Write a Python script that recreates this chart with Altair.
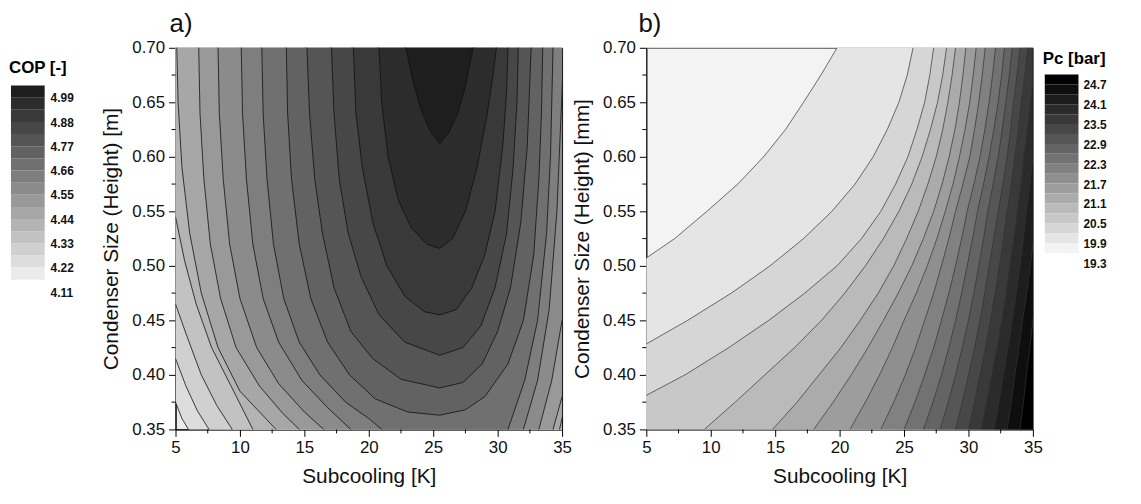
import altair as alt
import pandas as pd

FONT = "Liberation Sans"

# ---------------- panel a) COP [-] ----------------
COP_BOUNDS = [4.11, 4.165, 4.22, 4.275, 4.33, 4.385, 4.44, 4.495, 4.55,
              4.605, 4.66, 4.715, 4.77, 4.825, 4.88, 4.935, 4.99]
COP_GRAYS = [235, 221, 208, 194, 180, 167, 153, 139, 126, 112, 98, 85, 71, 57, 44, 30]
COP_LABELS = [4.11, 4.22, 4.33, 4.44, 4.55, 4.66, 4.77, 4.88, 4.99]
COP_LEVELS = [4.165, 4.22, 4.275, 4.33, 4.385, 4.44, 4.495, 4.55, 4.605,
              4.66, 4.715, 4.77, 4.825, 4.88, 4.935]

# contour lines (Subcooling K, Height m)
COP_LINE_X = [
    [5.0, 5.5, 6.0, 6.5, 35.0],
    [5.0, 5.8, 6.7, 7.6, 8.2, 35.0],
    [5.0, 5.9, 7.0, 8.2, 9.4, 10.0, 35.0],
    [5.0, 5.7, 6.6, 7.8, 9.3, 11.0, 11.6, 35.0],
    [5.0, 5.1, 5.2, 5.5, 6.1, 7.0, 8.3, 10.0, 12.8, 13.5, 34.0, 34.8, 35.2],
    [6.6, 6.8, 6.9, 7.2, 7.7, 8.5, 9.7, 11.5, 13.3, 14.6, 15.5, 33.4, 34.3, 35.0],
    [8.1, 8.3, 8.4, 8.7, 9.2, 10.0, 11.3, 13.0, 15.0, 16.5, 17.5, 32.2, 33.2, 34.2, 35.0],
    [9.9, 10.1, 10.2, 10.5, 11.0, 11.8, 13.0, 14.8, 16.8, 18.6, 19.5, 31.0, 32.0, 33.1, 34.0, 34.6, 35.0, 35.1],
    [11.5, 11.7, 11.8, 12.1, 12.6, 13.4, 14.6, 16.2, 18.2, 20.0, 21.0, 22.0, 29.5, 30.8, 32.1, 33.1, 33.8, 34.1, 34.3, 34.4],
    [13.4, 13.6, 13.7, 14.0, 14.6, 15.5, 16.8, 18.5, 20.5, 23.0, 25.5, 27.5, 29.0, 30.8, 32.0, 32.8, 33.2, 33.4, 33.5, 33.6],
    [15.0, 15.2, 15.4, 15.8, 16.4, 17.3, 18.6, 20.3, 22.5, 25.5, 27.3, 28.8, 30.0, 31.0, 31.8, 32.3, 32.6, 32.7],
    [16.9, 17.1, 17.3, 17.7, 18.4, 19.4, 20.8, 22.8, 25.5, 27.3, 28.7, 29.8, 30.7, 31.2, 31.5, 31.6, 31.7],
    [18.6, 18.8, 19.0, 19.5, 20.3, 21.4, 22.8, 24.3, 25.5, 26.8, 28.0, 29.0, 29.8, 30.4, 30.7, 30.8, 30.9],
    [20.6, 20.8, 21.0, 21.5, 22.3, 23.3, 24.5, 25.5, 26.5, 27.5, 28.4, 29.2, 29.7, 29.9, 30.0],
    [22.7, 22.9, 23.4, 24.0, 24.7, 25.5, 26.2, 26.9, 27.5, 28.1, 28.3],
]
COP_LINE_Y = [
    [0.375, 0.36, 0.35, 0.33, 0.33],
    [0.415, 0.39, 0.367, 0.35, 0.33, 0.33],
    [0.465, 0.435, 0.40, 0.372, 0.35, 0.33, 0.33],
    [0.545, 0.505, 0.465, 0.425, 0.39, 0.35, 0.33, 0.33],
    [0.72, 0.70, 0.65, 0.59, 0.53, 0.475, 0.425, 0.385, 0.35, 0.33, 0.33, 0.35, 0.37],
    [0.72, 0.70, 0.64, 0.58, 0.52, 0.47, 0.425, 0.39, 0.365, 0.35, 0.33, 0.33, 0.35, 0.38],
    [0.72, 0.70, 0.64, 0.58, 0.52, 0.47, 0.425, 0.392, 0.366, 0.35, 0.33, 0.33, 0.35, 0.395, 0.45],
    [0.72, 0.70, 0.64, 0.58, 0.52, 0.47, 0.43, 0.395, 0.37, 0.35, 0.33, 0.33, 0.35, 0.395, 0.46, 0.55, 0.66, 0.70],
    [0.72, 0.70, 0.64, 0.58, 0.52, 0.47, 0.43, 0.40, 0.375, 0.36, 0.35, 0.33, 0.33, 0.35, 0.395, 0.45, 0.53, 0.60, 0.70, 0.72],
    [0.72, 0.70, 0.64, 0.58, 0.52, 0.47, 0.43, 0.40, 0.378, 0.366, 0.363, 0.368, 0.38, 0.41, 0.45, 0.51, 0.58, 0.64, 0.70, 0.72],
    [0.72, 0.70, 0.64, 0.58, 0.53, 0.48, 0.44, 0.415, 0.396, 0.388, 0.393, 0.41, 0.44, 0.48, 0.54, 0.61, 0.70, 0.72],
    [0.72, 0.70, 0.64, 0.58, 0.53, 0.49, 0.455, 0.43, 0.418, 0.425, 0.445, 0.48, 0.53, 0.59, 0.65, 0.70, 0.72],
    [0.72, 0.70, 0.64, 0.59, 0.54, 0.50, 0.472, 0.458, 0.455, 0.46, 0.48, 0.51, 0.55, 0.61, 0.66, 0.70, 0.72],
    [0.72, 0.70, 0.65, 0.60, 0.56, 0.535, 0.52, 0.516, 0.525, 0.55, 0.59, 0.64, 0.68, 0.70, 0.72],
    [0.72, 0.70, 0.67, 0.645, 0.625, 0.612, 0.622, 0.64, 0.665, 0.70, 0.72],
]

# ---------------- panel b) Pc [bar] ----------------
PC_BOUNDS = [19.3, 19.6, 19.9, 20.2, 20.5, 20.8, 21.1, 21.4, 21.7, 22.0,
             22.3, 22.6, 22.9, 23.2, 23.5, 23.8, 24.1, 24.4, 24.7]
PC_GRAYS = [243, 229, 214, 200, 186, 171, 157, 143, 129, 114, 100, 86, 71, 57, 43, 29, 14, 0]
PC_LABELS = [19.3, 19.9, 20.5, 21.1, 21.7, 22.3, 22.9, 23.5, 24.1, 24.7]
PC_ROWS_Y = [0.35, 0.375, 0.40, 0.425, 0.45, 0.475, 0.50, 0.525,
             0.55, 0.575, 0.60, 0.625, 0.65, 0.675, 0.70]
# x position (Subcooling) of each contour line at every height row
PC_LINE_X = [
    [-14.0, -11.0, -8.0, -5.0, -2.0, 1.2, 4.1, 7.2, 9.7, 12.1, 14.1, 15.8, 17.2, 18.55, 19.8],
    [-7.0, -3.2, 0.6, 4.5, 8.2, 11.6, 14.6, 17.2, 19.4, 21.2, 22.6, 23.7, 24.6, 25.25, 25.7],
    [-0.3, 4.0, 8.0, 11.4, 14.5, 17.3, 19.8, 21.7, 23.2, 24.35, 25.3, 26.0, 26.6, 27.0, 27.3],
    [9.5, 11.9, 14.2, 16.5, 18.6, 20.4, 22.0, 23.4, 24.6, 25.6, 26.4, 27.05, 27.6, 28.0, 28.3],
    [14.8, 16.7, 18.4, 20.1, 21.6, 23.0, 24.2, 25.2, 26.1, 26.85, 27.5, 28.0, 28.4, 28.73, 29.0],
    [18.0, 19.5, 20.9, 22.2, 23.4, 24.55, 25.6, 26.5, 27.3, 27.95, 28.5, 28.95, 29.3, 29.57, 29.8],
    [20.8, 22.0, 23.1, 24.1, 25.0, 25.95, 26.8, 27.55, 28.2, 28.8, 29.3, 29.73, 30.1, 30.37, 30.6],
    [23.2, 24.2, 25.1, 25.9, 26.6, 27.3, 27.9, 28.48, 29.0, 29.57, 30.1, 30.47, 30.8, 31.07, 31.3],
    [25.0, 25.85, 26.6, 27.3, 27.9, 28.48, 29.0, 29.47, 29.9, 30.42, 30.9, 31.27, 31.6, 31.87, 32.1],
    [26.5, 27.25, 27.9, 28.48, 29.0, 29.47, 29.9, 30.32, 30.7, 31.17, 31.6, 31.97, 32.3, 32.57, 32.8],
    [27.8, 28.43, 29.0, 29.52, 30.0, 30.42, 30.8, 31.17, 31.5, 31.92, 32.3, 32.62, 32.9, 33.17, 33.4],
    [29.0, 29.52, 30.0, 30.47, 30.9, 31.27, 31.6, 31.97, 32.3, 32.67, 33.0, 33.27, 33.5, 33.77, 34.0],
    [30.0, 30.47, 30.9, 31.32, 31.7, 32.07, 32.4, 32.72, 33.0, 33.32, 33.6, 33.87, 34.1, 34.37, 34.6],
    [31.0, 31.42, 31.8, 32.22, 32.6, 32.92, 33.2, 33.52, 33.8, 34.07, 34.3, 34.57, 34.8, 35.05, 35.3],
    [32.0, 32.37, 32.7, 33.07, 33.4, 33.72, 34.0, 34.27, 34.5, 34.77, 35.0, 35.25, 35.5, 35.75, 36.0],
    [33.0, 33.32, 33.6, 33.92, 34.2, 34.52, 34.8, 35.07, 35.3, 35.57, 35.8, 36.05, 36.3, 36.55, 36.8],
    [34.0, 34.27, 34.5, 34.77, 35.0, 35.25, 35.5, 35.75, 36.0, 36.25, 36.5, 36.75, 37.0, 37.25, 37.5],
]

X_MAJOR = [5, 10, 15, 20, 25, 30, 35]
X_MINOR = [7.5, 12.5, 17.5, 22.5, 27.5, 32.5]
Y_MAJOR = [0.35, 0.40, 0.45, 0.50, 0.55, 0.60, 0.65, 0.70]
Y_MINOR = [0.375, 0.425, 0.475, 0.525, 0.575, 0.625, 0.675]

PLOT_W, PLOT_H = 390, 385


def gray(v):
    return "#%02x%02x%02x" % (v, v, v)


XS = alt.Scale(domain=[5, 35], nice=False, zero=False)
YS = alt.Scale(domain=[0.35, 0.70], nice=False, zero=False)

AX_COMMON = dict(grid=False, tickSize=7, tickColor="#000", domainColor="#000",
                 labelFontSize=17, titleFontSize=21, titleFontWeight="normal",
                 labelColor="#111", titleColor="#111", labelFlush=False,
                 labelOverlap=False, labelFont=FONT, titleFont=FONT)


def x_axis():
    return alt.Axis(values=X_MAJOR, title="Subcooling [K]", format="d",
                    labelPadding=3, titlePadding=11, **AX_COMMON)


def y_axis(title):
    return alt.Axis(values=Y_MAJOR, title=title, format=".2f",
                    labelPadding=4, titlePadding=10, **AX_COMMON)


def minor_ticks(ytitle):
    mx = alt.Chart(pd.DataFrame({"v": X_MINOR})).mark_rule(clip=False, color="#000", strokeWidth=1).encode(
        x=alt.X("v:Q", scale=XS, axis=x_axis()),
        y=alt.value(PLOT_H), y2=alt.value(PLOT_H + 4),
    )
    my = alt.Chart(pd.DataFrame({"v": Y_MINOR})).mark_rule(clip=False, color="#000", strokeWidth=1).encode(
        y=alt.Y("v:Q", scale=YS, axis=y_axis(ytitle)),
        x=alt.value(0), x2=alt.value(-4),
    )
    return [mx, my]


# ---- build panel a ----
YT_A = "Condenser Size (Height) [m]"
band_a = [f"A{k}" for k in range(1, len(COP_GRAYS) + 1)]
COLOR_A = alt.Scale(domain=band_a, range=[gray(g) for g in COP_GRAYS])

rows = []
for i, (xs, ys) in enumerate(zip(COP_LINE_X, COP_LINE_Y)):
    for x, y in zip(xs, ys):
        rows.append({"line": i, "level": COP_LEVELS[i], "band": band_a[i + 1], "x": x, "y": y})
df_a = pd.DataFrame(rows)

layers_a = []
for i in range(len(COP_LINE_X)):
    layers_a.append(
        alt.Chart(df_a[df_a["line"] == i]).mark_area(clip=True).encode(
            x=alt.X("x:Q", scale=XS, axis=x_axis()),
            y=alt.Y("y:Q", scale=YS, axis=y_axis(YT_A), stack=None),
            y2=alt.datum(0.70),
            color=alt.Color("band:N", scale=COLOR_A, legend=None),
        )
    )
layers_a.append(
    alt.Chart(df_a).mark_line(clip=True, color="#111", strokeWidth=0.8).encode(
        x=alt.X("x:Q", scale=XS, axis=x_axis()),
        y=alt.Y("y:Q", scale=YS, axis=y_axis(YT_A)),
        detail="line:N",
    )
)
layers_a += minor_ticks(YT_A)
plot_a = alt.layer(*layers_a).properties(
    width=PLOT_W, height=PLOT_H,
    title=alt.TitleParams("a)", anchor="start", frame="group", fontSize=26, fontWeight="normal",
                          font=FONT, color="#111", offset=2, dx=-6),
    view=alt.ViewBackground(fill=gray(COP_GRAYS[0]), stroke="#000", strokeWidth=1),
)

# ---- build panel b ----
YT_B = "Condenser Size (Height) [mm]"
band_b = [f"B{k}" for k in range(1, len(PC_GRAYS) + 1)]
COLOR_B = alt.Scale(domain=band_b, range=[gray(g) for g in PC_GRAYS])

rows = []
for i, xs in enumerate(PC_LINE_X):
    for x, y in zip(xs, PC_ROWS_Y):
        rows.append({"line": i, "band": band_b[i + 1], "x": x, "y": y})
df_b = pd.DataFrame(rows)

layers_b = []
for i in range(len(PC_LINE_X)):
    layers_b.append(
        alt.Chart(df_b[df_b["line"] == i]).mark_area(clip=True, orient="horizontal").encode(
            x=alt.X("x:Q", scale=XS, axis=x_axis(), stack=None),
            x2=alt.datum(35),
            y=alt.Y("y:Q", scale=YS, axis=y_axis(YT_B)),
            color=alt.Color("band:N", scale=COLOR_B, legend=None),
        )
    )
layers_b.append(
    alt.Chart(df_b).mark_line(clip=True, color="#333", strokeWidth=0.7).encode(
        x=alt.X("x:Q", scale=XS, axis=x_axis()),
        y=alt.Y("y:Q", scale=YS, axis=y_axis(YT_B)),
        detail="line:N",
        order=alt.Order("y:Q"),
    )
)
layers_b += minor_ticks(YT_B)
plot_b = alt.layer(*layers_b).properties(
    width=PLOT_W, height=PLOT_H,
    title=alt.TitleParams("b)", anchor="start", frame="group", fontSize=26, fontWeight="normal",
                          font=FONT, color="#111", offset=2, dx=-8),
    view=alt.ViewBackground(fill=gray(PC_GRAYS[0]), stroke="#555", strokeWidth=1),
)


# ---- legends ----
def legend(bounds, bands, color_scale, labels, title, ydom, x0, lab_dx, lab_dy, title_dy, w):
    df = pd.DataFrame({"lo": bounds[:-1], "hi": bounds[1:], "band": bands})
    ys = alt.Scale(domain=ydom, nice=False, zero=False)
    rects = alt.Chart(df).mark_rect().encode(
        y=alt.Y("lo:Q", scale=ys, axis=None), y2="hi:Q",
        x=alt.value(x0), x2=alt.value(x0 + 34),
        color=alt.Color("band:N", scale=color_scale, legend=None),
    )
    ldf = pd.DataFrame({"v": labels, "t": [f"{v:.2f}" if v < 10 else f"{v:.1f}" for v in labels]})
    texts = alt.Chart(ldf).mark_text(align="left", baseline="middle", dy=lab_dy, fontSize=12,
                                     fontWeight="bold", font=FONT, color="#111").encode(
        y=alt.Y("v:Q", scale=ys, axis=None), x=alt.value(x0 + 34 + lab_dx), text="t:N")
    tdf = pd.DataFrame({"v": [bounds[-1]], "t": [title]})
    ttl = alt.Chart(tdf).mark_text(align="left", baseline="middle", dy=title_dy, fontSize=17,
                                   fontWeight="bold", font=FONT, color="#000").encode(
        y=alt.Y("v:Q", scale=ys, axis=None), x=alt.value(x0 - 2), text="t:N")
    return alt.layer(rects, texts, ttl).properties(
        width=w, height=PLOT_H, view=alt.ViewBackground(stroke="transparent"))


leg_a = legend(COP_BOUNDS, band_a, COLOR_A, COP_LABELS, "COP [-]",
               [3.432, 5.161], 2, 6, 13, -18, 168)
leg_b = legend(PC_BOUNDS, band_b, COLOR_B, PC_LABELS, "Pc [bar]",
               [13.96, 25.51], 12, 5, 11, -16, 100)

spacer = alt.Chart(pd.DataFrame({"s": [0]})).mark_point(opacity=0).encode(
    x=alt.value(0), y=alt.value(0)
).properties(width=85, height=PLOT_H, view=alt.ViewBackground(stroke="transparent"))

chart = alt.hconcat(leg_a, plot_a, spacer, plot_b, leg_b, spacing=0, bounds="flush").resolve_scale(
    color="independent", x="independent", y="independent"
).properties(
    padding={"left": 0, "right": 0, "top": 0, "bottom": 0},
    background="white",
).configure(font=FONT)

chart.save("out.html", embed_options={"renderer": "svg", "actions": False})
